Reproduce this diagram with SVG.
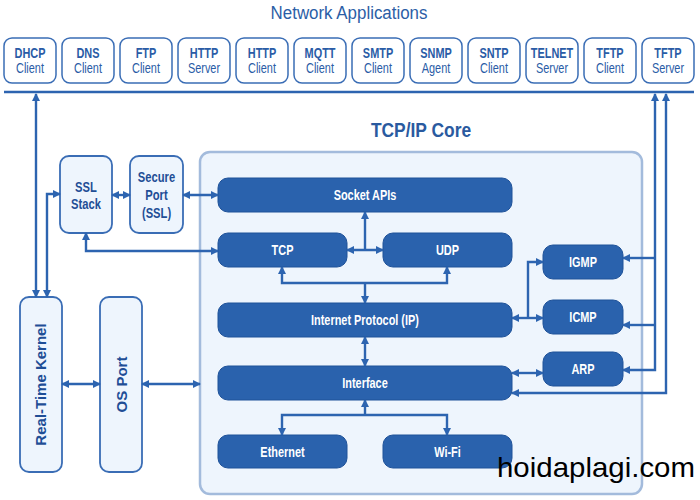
<svg xmlns="http://www.w3.org/2000/svg" width="700" height="500" viewBox="0 0 700 500">
<defs>
<style>
.app{fill:#ffffff;stroke:#3a6db5;stroke-width:1.5}
.lt{fill:#eef5fd;stroke:#3a6db5;stroke-width:1.8}
.dk{fill:#2a62ad;stroke:#1f5299;stroke-width:1}
.core{fill:#eef5fd;stroke:#a3bbdc;stroke-width:2.5}
.tb{font-family:"Liberation Sans",Arial,sans-serif;font-size:14px;font-weight:bold;fill:#2a5ca6;text-anchor:middle}
.tn{font-family:"Liberation Sans",Arial,sans-serif;font-size:14px;fill:#2a5ca6;text-anchor:middle}
.wt{font-family:"Liberation Sans",Arial,sans-serif;font-size:14px;font-weight:bold;fill:#ffffff;text-anchor:middle}
.lb{font-family:"Liberation Sans",Arial,sans-serif;font-size:14px;font-weight:bold;fill:#1f4e96;text-anchor:middle}
.rt{font-family:"Liberation Sans",Arial,sans-serif;font-size:15px;font-weight:bold;fill:#1f4e96;text-anchor:middle}
.c{fill:none;stroke:#2d64b0;stroke-width:2.4}
.d{marker-start:url(#ah);marker-end:url(#ah)}
.e{marker-end:url(#ah)}
.s{marker-start:url(#ah)}
</style>
<marker id="ah" markerUnits="userSpaceOnUse" markerWidth="8" markerHeight="8" refX="7" refY="4" orient="auto-start-reverse" viewBox="0 0 8 8">
<path d="M0,0 L8,4 L0,8 z" fill="#2d64b0"/>
</marker>
</defs>
<rect width="700" height="500" fill="#ffffff"/>

<text transform="translate(349,19) scale(0.89,1)" font-family="'Liberation Sans',Arial,sans-serif" font-size="19" fill="#2b5ea6" text-anchor="middle">Network Applications</text>

<g id="apps">
<g id="app-dhcp"><rect class="app" x="4" y="38" width="52" height="45" rx="8"/><text class="tb" transform="translate(30,58) scale(0.78,1)">DHCP</text><text class="tn" transform="translate(30,72.5) scale(0.78,1)">Client</text></g>
<g id="app-dns"><rect class="app" x="62" y="38" width="52" height="45" rx="8"/><text class="tb" transform="translate(88,58) scale(0.78,1)">DNS</text><text class="tn" transform="translate(88,72.5) scale(0.78,1)">Client</text></g>
<g id="app-ftp"><rect class="app" x="120" y="38" width="52" height="45" rx="8"/><text class="tb" transform="translate(146,58) scale(0.78,1)">FTP</text><text class="tn" transform="translate(146,72.5) scale(0.78,1)">Client</text></g>
<g id="app-https"><rect class="app" x="178" y="38" width="52" height="45" rx="8"/><text class="tb" transform="translate(204,58) scale(0.78,1)">HTTP</text><text class="tn" transform="translate(204,72.5) scale(0.78,1)">Server</text></g>
<g id="app-httpc"><rect class="app" x="236" y="38" width="52" height="45" rx="8"/><text class="tb" transform="translate(262,58) scale(0.78,1)">HTTP</text><text class="tn" transform="translate(262,72.5) scale(0.78,1)">Client</text></g>
<g id="app-mqtt"><rect class="app" x="294" y="38" width="52" height="45" rx="8"/><text class="tb" transform="translate(320,58) scale(0.78,1)">MQTT</text><text class="tn" transform="translate(320,72.5) scale(0.78,1)">Client</text></g>
<g id="app-smtp"><rect class="app" x="352" y="38" width="52" height="45" rx="8"/><text class="tb" transform="translate(378,58) scale(0.78,1)">SMTP</text><text class="tn" transform="translate(378,72.5) scale(0.78,1)">Client</text></g>
<g id="app-snmp"><rect class="app" x="410" y="38" width="52" height="45" rx="8"/><text class="tb" transform="translate(436,58) scale(0.78,1)">SNMP</text><text class="tn" transform="translate(436,72.5) scale(0.78,1)">Agent</text></g>
<g id="app-sntp"><rect class="app" x="468" y="38" width="52" height="45" rx="8"/><text class="tb" transform="translate(494,58) scale(0.78,1)">SNTP</text><text class="tn" transform="translate(494,72.5) scale(0.78,1)">Client</text></g>
<g id="app-telnet"><rect class="app" x="526" y="38" width="52" height="45" rx="8"/><text class="tb" transform="translate(552,58) scale(0.78,1)">TELNET</text><text class="tn" transform="translate(552,72.5) scale(0.78,1)">Server</text></g>
<g id="app-tftpc"><rect class="app" x="584" y="38" width="52" height="45" rx="8"/><text class="tb" transform="translate(610,58) scale(0.78,1)">TFTP</text><text class="tn" transform="translate(610,72.5) scale(0.78,1)">Client</text></g>
<g id="app-tftps"><rect class="app" x="642" y="38" width="52" height="45" rx="8"/><text class="tb" transform="translate(668,58) scale(0.78,1)">TFTP</text><text class="tn" transform="translate(668,72.5) scale(0.78,1)">Server</text></g>
</g>

<g id="core">
<rect class="core" x="200" y="152" width="442" height="342" rx="10"/>
<text transform="translate(421,137) scale(0.87,1)" font-family="'Liberation Sans',Arial,sans-serif" font-size="20" font-weight="bold" fill="#2a5a9f" text-anchor="middle">TCP/IP Core</text>
</g>

<g id="ssl-stack"><rect class="lt" x="60" y="156" width="52" height="77" rx="9"/><text class="lb" transform="translate(86,192) scale(0.8,1)">SSL</text><text class="lb" transform="translate(86,209) scale(0.8,1)">Stack</text></g>
<g id="secure-port"><rect class="lt" x="130" y="156" width="53" height="77" rx="9"/><text class="lb" transform="translate(156.5,182) scale(0.8,1)">Secure</text><text class="lb" transform="translate(156.5,200) scale(0.8,1)">Port</text><text class="lb" transform="translate(156.5,218) scale(0.8,1)">(SSL)</text></g>
<g id="rtk"><rect class="lt" x="20" y="297" width="42" height="175" rx="9"/><text class="rt" transform="translate(46,384.5) rotate(-90)">Real-Time Kernel</text></g>
<g id="os-port"><rect class="lt" x="100" y="297" width="42" height="175" rx="9"/><text class="rt" transform="translate(126.5,384.5) rotate(-90)">OS Port</text></g>

<g id="socket"><rect class="dk" x="218" y="178" width="294" height="34" rx="10"/><text class="wt" transform="translate(365,200) scale(0.78,1)">Socket APIs</text></g>
<g id="tcp"><rect class="dk" x="218" y="233" width="129" height="34" rx="10"/><text class="wt" transform="translate(282.5,255) scale(0.78,1)">TCP</text></g>
<g id="udp"><rect class="dk" x="383" y="233" width="129" height="34" rx="10"/><text class="wt" transform="translate(447.5,255) scale(0.78,1)">UDP</text></g>
<g id="ip"><rect class="dk" x="218" y="303" width="294" height="34" rx="10"/><text class="wt" transform="translate(365,325) scale(0.78,1)">Internet Protocol (IP)</text></g>
<g id="interface"><rect class="dk" x="218" y="366" width="294" height="34" rx="10"/><text class="wt" transform="translate(365,388) scale(0.78,1)">Interface</text></g>
<g id="ethernet"><rect class="dk" x="218" y="435" width="129" height="33" rx="10"/><text class="wt" transform="translate(282.5,456.5) scale(0.78,1)">Ethernet</text></g>
<g id="wifi"><rect class="dk" x="383" y="435" width="129" height="33" rx="10"/><text class="wt" transform="translate(447.5,456.5) scale(0.78,1)">Wi-Fi</text></g>
<g id="igmp"><rect class="dk" x="543" y="245" width="80" height="34" rx="10"/><text class="wt" transform="translate(583,267) scale(0.78,1)">IGMP</text></g>
<g id="icmp"><rect class="dk" x="543" y="300" width="80" height="34" rx="10"/><text class="wt" transform="translate(583,322) scale(0.78,1)">ICMP</text></g>
<g id="arp"><rect class="dk" x="543" y="352" width="80" height="34" rx="10"/><text class="wt" transform="translate(583,374) scale(0.78,1)">ARP</text></g>

<g id="connectors">
<path class="c" d="M4,92 H694" stroke-width="2"/>
<path class="c d" d="M36,94 V297"/>
<path class="c d" d="M60,194 H47 V297"/>
<path class="c d" d="M112,195 H130"/>
<path class="c d" d="M183,195 H218"/>
<path class="c d" d="M86,233 V251 H218"/>
<path class="c d" d="M347,250 H383"/>
<path class="c e" d="M365,250 V212"/>
<path class="c d" d="M282,267 V283 H447 V267"/>
<path class="c e" d="M365,283 V303"/>
<path class="c d" d="M365,337 V366"/>
<path class="c e" d="M365,415 V400"/>
<path class="c d" d="M282,435 V415 H447 V435"/>
<path class="c d" d="M512,318 H543"/>
<path class="c e" d="M528,318 V262 H543"/>
<path class="c d" d="M512,373 H543"/>
<path class="c d" d="M655,94 V370 H623"/>
<path class="c e" d="M655,258 H623"/>
<path class="c e" d="M655,325 H623"/>
<path class="c d" d="M666,94 V393 H512"/>
<path class="c d" d="M62,384 H100"/>
<path class="c d" d="M142,384 H200"/>
</g>

<text x="497" y="477" font-family="'Liberation Sans',Arial,sans-serif" font-size="28" textLength="198" lengthAdjust="spacingAndGlyphs" fill="#000000">hoidaplagi.com</text>
</svg>
